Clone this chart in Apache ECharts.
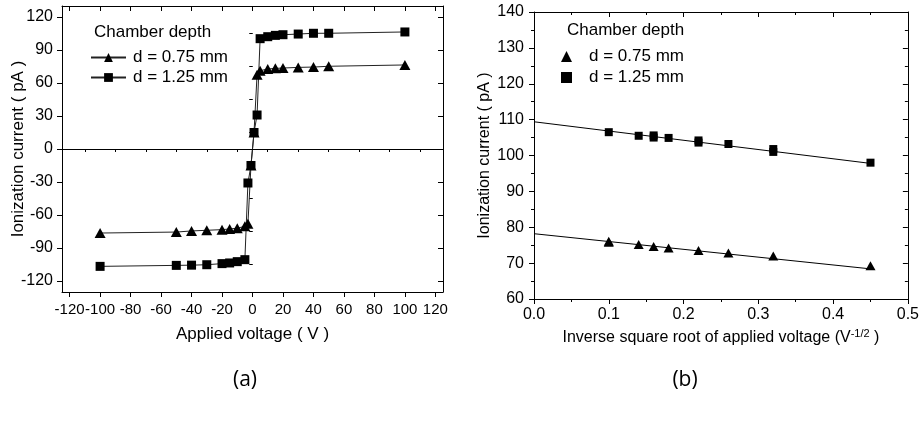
<!DOCTYPE html>
<html>
<head>
<meta charset="utf-8">
<script src="https://cdn.jsdelivr.net/npm/echarts@6/dist/echarts.min.js"></script>
<style>
  html, body { margin: 0; padding: 0; background: #fff; }
  #chart { width: 922px; height: 421px; }
</style>
</head>
<body>
<div id="chart"></div>
<script>
// (a) ionization current vs applied voltage
const voltage = [-100, -50, -40, -30, -20, -15, -10, -5, -3, -1, 1, 3, 5, 10, 15, 20, 30, 40, 50, 100];
const current075 = [-76.4, -75.5, -74.5, -73.9, -73.3, -72.7, -72.0, -70.3, -67.9, -15, 15, 67.6, 71.2, 72.7, 73.3, 73.6, 74.2, 74.5, 75.2, 76.4];
const current125 = [-106.7, -105.8, -105.6, -105.2, -104.2, -103.6, -102.4, -100.6, -30.9, -15, 15, 30.9, 100.3, 102.1, 103.3, 103.9, 104.5, 105.2, 105.2, 106.4];
const voltTicks = [-120, -100, -80, -60, -40, -20, 0, 20, 40, 60, 80, 100, 120];
const voltMinor = [-110, -90, -70, -50, -30, -10, 10, 30, 50, 70, 90, 110];
const currentTicks = [-120, -90, -60, -30, 0, 30, 60, 90, 120];
const currentMinor = [-105, -75, -45, -15, 15, 45, 75, 105];

// (b) ionization current vs inverse square root of voltage
const invRoot075 = [0.10, 0.10, 0.14, 0.16, 0.18, 0.22, 0.26, 0.32, 0.45];
const ion075 = [76.1, 75.8, 75.2, 74.6, 74.2, 73.5, 72.8, 72.0, 69.3];
const invRoot125 = [0.10, 0.14, 0.16, 0.16, 0.18, 0.22, 0.22, 0.26, 0.32, 0.32, 0.45];
const ion125 = [106.5, 105.5, 105.0, 105.6, 104.9, 103.6, 104.2, 103.2, 101.0, 101.8, 98.0];
const fitX = [0, 0.45];
const fit075 = [78.2, 68.4];
const fit125 = [109.4, 97.8];

const FONT = 'Liberation Sans';
const BLACK = '#000';
const names = { a075: 'd = 0.75 mm', a125: 'd = 1.25 mm', b075: 'd = 0.75 mm', b125: 'd = 1.25 mm' };

const zip = (xs, ys) => xs.map((x, i) => [x, ys[i]]);

const chart = echarts.init(document.getElementById('chart'), null, { renderer: 'canvas' });

function frameAxis(gridIndex, position, extra) {
  return Object.assign({
    type: 'value',
    gridIndex: gridIndex,
    position: position,
    nameMoveOverlap: false,
    axisLine: { show: true, onZero: false, lineStyle: { color: BLACK, width: 1 } },
    axisLabel: { show: false },
    splitLine: { show: false },
    silent: true
  }, extra);
}

const labelStyle = { color: BLACK, fontSize: 16, fontFamily: FONT, hideOverlap: false };
const nameStyleA = { color: BLACK, fontSize: 17, fontFamily: FONT };
const nameStyleB = { color: BLACK, fontSize: 16, fontFamily: FONT };
const legendText = { color: BLACK, fontSize: 17, fontFamily: FONT };

const option = {
  animation: false,
  backgroundColor: '#fff',
  title: [
    { text: 'Chamber depth', left: 94, top: 24, padding: 0, textStyle: { ...legendText, fontWeight: 'normal' } },
    { text: 'Chamber depth', left: 567, top: 22, padding: 0, textStyle: { ...legendText, fontWeight: 'normal' } },
    { text: '(a)', left: 245, top: 370, padding: 0, textAlign: 'center', textStyle: { color: BLACK, fontSize: 21, fontWeight: 'normal', fontFamily: 'Open Sans' } },
    { text: '(b)', left: 685, top: 370, padding: 0, textAlign: 'center', textStyle: { color: BLACK, fontSize: 21, fontWeight: 'normal', fontFamily: 'Open Sans' } }
  ],
  legend: [
    {
      data: ['a075', 'a125'],
      orient: 'vertical',
      left: 85, top: 44,
      itemWidth: 35, itemHeight: 11, itemGap: 3,
      formatter: n => names[n],
      textStyle: { ...legendText, padding: [0, 0, 0, 2] },
      selectedMode: false
    },
    {
      data: ['b075', 'b125'],
      orient: 'vertical',
      left: 556, top: 43,
      itemWidth: 11, itemHeight: 11, itemGap: 4,
      formatter: n => names[n],
      textStyle: { ...legendText, padding: [0, 0, 0, 12] },
      selectedMode: false
    }
  ],
  grid: [
    { left: 62, top: 6, width: 381, height: 286 },
    { left: 534, top: 12, width: 374, height: 287 }
  ],
  xAxis: [
    frameAxis(0, 'bottom', {
      min: -125, max: 125,
      name: 'Applied voltage ( V )', nameLocation: 'middle', nameGap: 34, nameTextStyle: nameStyleA,
      axisTick: { show: true, length: 5, inside: false, customValues: voltTicks, lineStyle: { color: BLACK } },
      axisLabel: { show: true, customValues: voltTicks, margin: 10, ...labelStyle, fontSize: 15 }
    }),
    frameAxis(0, 'bottom', { min: -125, max: 125, axisLine: { show: false }, axisTick: { show: true, length: 3, customValues: voltMinor, lineStyle: { color: BLACK } } }),
    frameAxis(0, 'top', { min: -125, max: 125, axisTick: { show: true, length: 5, inside: true, customValues: voltTicks, lineStyle: { color: BLACK } } }),
    frameAxis(0, 'top', { min: -125, max: 125, axisLine: { show: false }, axisTick: { show: true, length: 3, inside: true, customValues: voltMinor, lineStyle: { color: BLACK } } }),
    frameAxis(1, 'bottom', {
      min: 0, max: 0.5, interval: 0.1,
      name: '{t|Inverse square root of applied voltage (V}{s|-1/2}{t| )}', nameLocation: 'middle', nameGap: 29,
      nameTextStyle: { rich: { t: nameStyleB, s: { color: BLACK, fontSize: 11, fontFamily: FONT, verticalAlign: 'top', padding: [0, 0, 8, 0] } } },
      axisTick: { show: true, length: 5, inside: false, lineStyle: { color: BLACK } },
      minorTick: { show: true, splitNumber: 2, length: 3, lineStyle: { color: BLACK } },
      axisLabel: { show: true, margin: 8, formatter: v => v.toFixed(1), ...labelStyle }
    }),
    frameAxis(1, 'top', {
      min: 0, max: 0.5, interval: 0.1,
      axisTick: { show: true, length: 5, inside: true, lineStyle: { color: BLACK } },
      minorTick: { show: true, splitNumber: 2, length: 3, lineStyle: { color: BLACK } }
    })
  ],
  yAxis: [
    frameAxis(0, 'left', {
      min: -130, max: 130,
      name: 'Ionization current ( pA )', nameLocation: 'middle', nameGap: 35, nameTextStyle: nameStyleA,
      axisTick: { show: true, length: 5, inside: false, customValues: currentTicks, lineStyle: { color: BLACK } },
      axisLabel: { show: true, customValues: currentTicks, margin: 9, ...labelStyle }
    }),
    frameAxis(0, 'left', { min: -130, max: 130, axisLine: { show: false }, axisTick: { show: true, length: 3, customValues: currentMinor, lineStyle: { color: BLACK } } }),
    frameAxis(0, 'right', { min: -130, max: 130, axisTick: { show: true, length: 5, inside: true, customValues: currentTicks, lineStyle: { color: BLACK } } }),
    frameAxis(0, 'right', { min: -130, max: 130, axisLine: { show: false }, axisTick: { show: true, length: 3, inside: true, customValues: currentMinor, lineStyle: { color: BLACK } } }),
    frameAxis(1, 'left', {
      min: 60, max: 140, interval: 10,
      name: 'Ionization current ( pA )', nameLocation: 'middle', nameGap: 41, nameTextStyle: nameStyleB,
      axisTick: { show: true, length: 5, inside: false, lineStyle: { color: BLACK } },
      minorTick: { show: true, splitNumber: 2, length: 3, lineStyle: { color: BLACK } },
      axisLabel: { show: true, margin: 10, ...labelStyle }
    }),
    frameAxis(1, 'right', {
      min: 60, max: 140, interval: 10,
      axisTick: { show: true, length: 5, inside: true, lineStyle: { color: BLACK } },
      minorTick: { show: true, splitNumber: 2, length: 3, lineStyle: { color: BLACK } }
    })
  ],
  series: [
    {
      name: 'a075', type: 'line', xAxisIndex: 0, yAxisIndex: 0,
      data: zip(voltage, current075),
      symbol: 'triangle', symbolSize: [11, 10],
      lineStyle: { color: '#222', width: 1 },
      itemStyle: { color: BLACK, opacity: 1 },
      markLine: {
        silent: true, symbol: 'none', label: { show: false },
        lineStyle: { color: BLACK, width: 1, type: 'solid' },
        data: [{ yAxis: 0 }]
      }
    },
    {
      name: 'a125', type: 'line', xAxisIndex: 0, yAxisIndex: 0,
      data: zip(voltage, current125),
      symbol: 'rect', symbolSize: 9,
      lineStyle: { color: '#222', width: 1 },
      itemStyle: { color: BLACK, opacity: 1 }
    },
    {
      name: 'b075', type: 'scatter', xAxisIndex: 4, yAxisIndex: 4,
      data: zip(invRoot075, ion075),
      symbol: 'triangle', symbolSize: [10, 9],
      itemStyle: { color: BLACK, opacity: 1 }
    },
    {
      name: 'b125', type: 'scatter', xAxisIndex: 4, yAxisIndex: 4,
      data: zip(invRoot125, ion125),
      symbol: 'rect', symbolSize: 8,
      itemStyle: { color: BLACK, opacity: 1 }
    },
    {
      name: 'fit075', type: 'line', xAxisIndex: 4, yAxisIndex: 4,
      data: zip(fitX, fit075), symbol: 'none', silent: true,
      lineStyle: { color: BLACK, width: 1 }
    },
    {
      name: 'fit125', type: 'line', xAxisIndex: 4, yAxisIndex: 4,
      data: zip(fitX, fit125), symbol: 'none', silent: true,
      lineStyle: { color: BLACK, width: 1 }
    }
  ]
};

chart.setOption(option);
</script>
</body>
</html>
